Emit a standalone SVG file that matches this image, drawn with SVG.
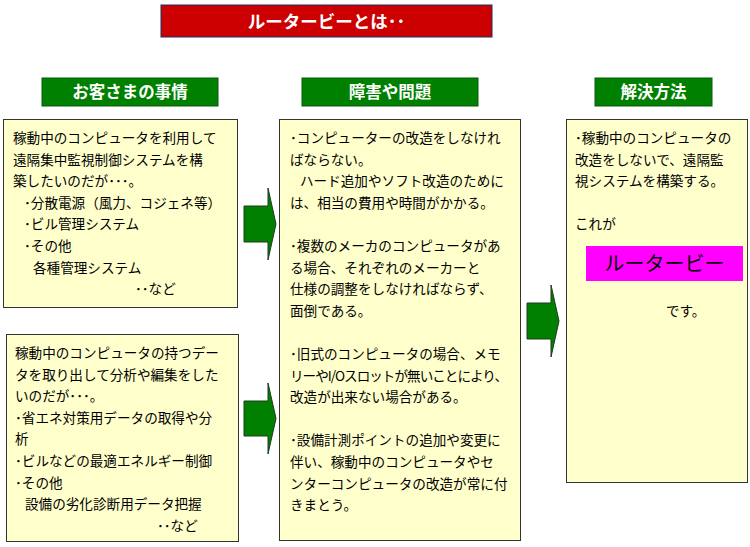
<svg xmlns="http://www.w3.org/2000/svg" width="750" height="547" viewBox="0 0 750 547">
<style>
.box{fill:#FFFFCC;stroke:#333;stroke-width:1}
.hdr{fill:#008000;stroke:#0A5A0A;stroke-width:1}
.arrow{fill:#008000;stroke:#1E3A1E;stroke-width:1}
.t{font-family:"Noto Sans CJK JP","Noto Sans",sans-serif;font-size:13.6px;fill:#000}
.h{font-family:"Noto Sans CJK JP","Noto Sans",sans-serif;font-size:16.5px;font-weight:bold;fill:#fff;text-anchor:middle}
</style>
<rect width="750" height="547" fill="#fff"/>
<g id="title">
<rect x="161" y="5" width="331" height="32" fill="#CC0000" stroke="#1F2F5F" stroke-width="1"/>
<text x="326.5" y="27.5" font-family="Noto Sans CJK JP,sans-serif" font-size="17.5" font-weight="bold" fill="#fff" text-anchor="middle">ルータービーとは･･</text>
</g>
<g id="header-customer">
<rect class="hdr" x="42" y="78" width="176" height="28"/>
<text class="h" x="130" y="98">お客さまの事情</text>
</g>
<g id="header-problem">
<rect class="hdr" x="302" y="78" width="176" height="28"/>
<text class="h" x="390" y="98">障害や問題</text>
</g>
<g id="header-solution">
<rect class="hdr" x="595" y="78" width="117" height="28"/>
<text class="h" x="653.5" y="98">解決方法</text>
</g>
<g id="box-customer1">
<rect class="box" x="3.5" y="119.5" width="234" height="188"/>
<text class="t" x="13" y="143">稼動中のコンピュータを利用して</text>
<text class="t" x="13" y="164.6">遠隔集中監視制御システムを構</text>
<text class="t" x="13" y="186.2">築したいのだが･･･。</text>
<text class="t" x="24" y="207.8">･分散電源（風力、コジェネ等）</text>
<text class="t" x="24" y="229.4">･ビル管理システム</text>
<text class="t" x="24" y="251">･その他</text>
<text class="t" x="33" y="272.6">各種管理システム</text>
<text class="t" x="135" y="294.2">･･など</text>
</g>
<g id="box-customer2">
<rect class="box" x="6.5" y="334.5" width="232" height="207"/>
<text class="t" x="15" y="358">稼動中のコンピュータの持つデー</text>
<text class="t" x="15" y="379.6">タを取り出して分析や編集をした</text>
<text class="t" x="15" y="401.2">いのだが･･･。</text>
<text class="t" x="15" y="422.8">･省エネ対策用データの取得や分</text>
<text class="t" x="15" y="444.4">析</text>
<text class="t" x="15" y="466">･ビルなどの最適エネルギー制御</text>
<text class="t" x="15" y="487.6">･その他</text>
<text class="t" x="25" y="509.2">設備の劣化診断用データ把握</text>
<text class="t" x="157" y="530.8">･･など</text>
</g>
<g id="box-problem">
<rect class="box" x="279.5" y="119.5" width="241" height="421"/>
<text class="t" x="290" y="143">･コンピューターの改造をしなけれ</text>
<text class="t" x="290" y="164.6">ばならない。</text>
<text class="t" x="300" y="186.2">ハード追加やソフト改造のために</text>
<text class="t" x="290" y="207.8">は、相当の費用や時間がかかる。</text>
<text class="t" x="290" y="251">･複数のメーカのコンピュータがあ</text>
<text class="t" x="290" y="272.6">る場合、それぞれのメーカーと</text>
<text class="t" x="290" y="294.2">仕様の調整をしなければならず、</text>
<text class="t" x="290" y="315.8">面倒である。</text>
<text class="t" x="290" y="359">･旧式のコンピュータの場合、メモ</text>
<text class="t" x="290" y="380.6" textLength="218">リーやI/Oスロットが無いことにより、</text>
<text class="t" x="290" y="402.2">改造が出来ない場合がある。</text>
<text class="t" x="290" y="445.4">･設備計測ポイントの追加や変更に</text>
<text class="t" x="290" y="467">伴い、稼動中のコンピュータやセ</text>
<text class="t" x="290" y="488.6">ンターコンピュータの改造が常に付</text>
<text class="t" x="290" y="510.2">きまとう。</text>
</g>
<g id="box-solution">
<rect class="box" x="566.5" y="119.5" width="181" height="363"/>
<text class="t" x="575" y="143">･稼動中のコンピュータの</text>
<text class="t" x="575" y="164.6">改造をしないで、遠隔監</text>
<text class="t" x="575" y="186.2">視システムを構築する。</text>
<text class="t" x="575" y="229.4">これが</text>
<rect x="586" y="246" width="157" height="35" fill="#FF00FF"/>
<text x="664.5" y="271" font-family="Noto Sans CJK JP,sans-serif" font-size="20" fill="#000" text-anchor="middle">ルータービー</text>
<text class="t" x="666" y="315.5">です。</text>
</g>
<g id="connectors">
<polygon class="arrow" points="244,206 268,206 268,188 276,224 268,260 268,242 244,242"/>
<polygon class="arrow" points="244,401 268,401 268,383 276,418.5 268,454 268,436 244,436"/>
<polygon class="arrow" points="527,303 551,303 551,285 559,321 551,357 551,339 527,339"/>
</g>
</svg>
